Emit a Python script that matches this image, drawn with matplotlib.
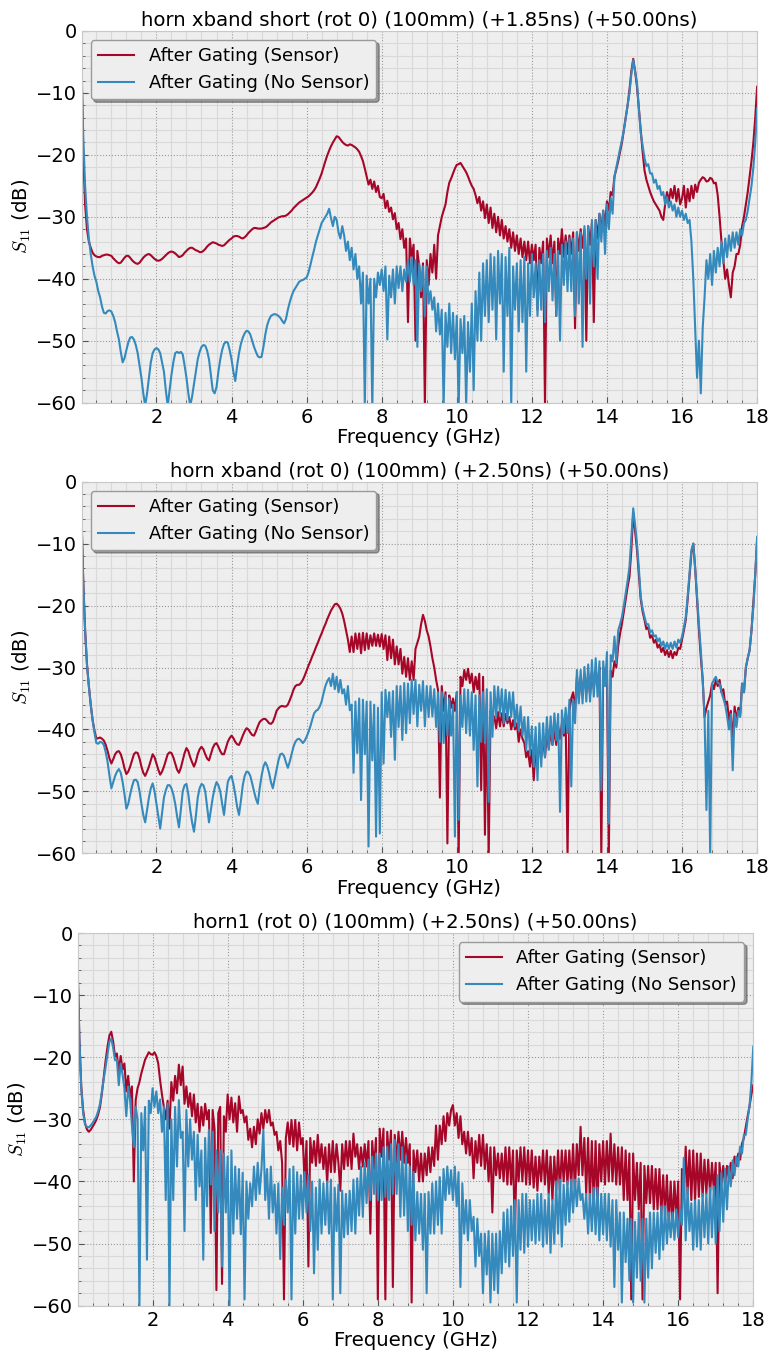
import numpy as np
import matplotlib
matplotlib.use("Agg")
import matplotlib.pyplot as plt
from matplotlib.ticker import MultipleLocator, AutoMinorLocator

plt.rcParams["mathtext.fontset"] = "cm"

# --- Data: dB values on a 0.05 GHz grid (first point at 0.01 GHz), one row per GHz ---
freq = np.concatenate([[0.01], np.arange(1, 361) / 20])

titles = [
    "horn xband short (rot 0) (100mm) (+1.85ns) (+50.00ns)",
    "horn xband (rot 0) (100mm) (+2.50ns) (+50.00ns)",
    "horn1 (rot 0) (100mm) (+2.50ns) (+50.00ns)",
]
labels = ["After Gating (Sensor)", "After Gating (No Sensor)"]

s1_sensor = [
    -7.5, -20.0, -28.0, -32.0, -34.0, -35.0, -35.8, -36.2, -36.4, -36.5, -36.5, -36.3, -36.2, -36.1, -36.1, -36.2, -36.3, -36.7, -37.0, -37.3,
    -37.5, -37.4, -37.0, -36.6, -36.3, -36.3, -36.6, -37.0, -37.3, -37.5, -37.6, -37.4, -37.0, -36.6, -36.3, -36.1, -36.0, -36.2, -36.5, -36.8,
    -37.0, -37.1, -37.0, -36.8, -36.5, -36.2, -35.9, -35.7, -35.6, -35.7, -35.9, -36.2, -36.5, -36.4, -36.2, -35.8, -35.5, -35.2, -35.0, -35.0,
    -35.2, -35.4, -35.5, -35.7, -35.7, -35.5, -35.2, -34.8, -34.5, -34.3, -34.1, -34.2, -34.3, -34.5, -34.6, -34.7, -34.6, -34.3, -34.0, -33.7,
    -33.5, -33.2, -33.1, -33.1, -33.2, -33.4, -33.5, -33.3, -33.0, -32.6, -32.3, -32.0, -31.8, -31.8, -31.9, -31.9, -31.9, -31.8, -31.7, -31.5,
    -31.2, -30.9, -30.7, -30.5, -30.3, -30.1, -30.0, -29.9, -29.9, -29.8, -29.6, -29.3, -29.0, -28.6, -28.3, -28.0, -27.7, -27.5, -27.3, -27.1,
    -26.9, -26.7, -26.4, -26.1, -25.7, -25.2, -24.5, -23.8, -23.0, -22.0, -21.0, -20.1, -19.3, -18.6, -18.0, -17.5, -17.0, -17.1, -17.5, -17.9,
    -18.2, -18.4, -18.5, -18.3, -18.4, -18.6, -18.8, -19.1, -19.5, -20.2, -21.0, -22.2, -23.5, -24.8, -24.0, -25.5, -24.3, -26.0, -25.0, -26.8,
    -27.0, -26.3, -28.6, -27.4, -29.2, -28.5, -30.4, -29.4, -32.0, -31.0, -33.6, -32.0, -35.0, -33.5, -47.0, -33.5, -36.5, -34.5, -50.0, -35.5,
    -38.0, -43.0, -37.5, -60.5, -37.0, -41.0, -36.0, -39.0, -34.5, -40.0, -33.0, -31.5, -30.0, -29.0, -28.0, -26.0, -24.5, -23.8, -23.0, -22.2,
    -21.6, -21.5, -21.3, -21.8, -22.3, -22.8, -23.5, -24.3, -25.0, -25.5, -26.5, -27.8, -26.8, -29.0, -27.5, -30.2, -28.0, -31.0, -28.5, -31.8,
    -29.5, -32.5, -30.0, -33.0, -30.5, -33.5, -31.5, -34.0, -32.0, -35.0, -32.5, -35.5, -33.0, -36.0, -33.5, -36.5, -34.0, -37.0, -34.0, -37.5,
    -34.5, -37.0, -34.5, -45.0, -35.0, -37.5, -34.0, -60.5, -33.5, -36.5, -33.0, -37.5, -34.0, -46.0, -33.5, -36.0, -32.0, -36.5, -33.0, -36.0,
    -33.0, -36.0, -32.5, -48.0, -32.5, -35.5, -32.0, -35.0, -32.0, -50.0, -31.5, -34.5, -31.0, -47.0, -30.5, -33.5, -29.5, -32.5, -29.0, -31.5,
    -27.5, -29.0, -26.0, -26.5, -23.5, -22.3, -21.0, -19.5, -18.0, -16.0, -14.0, -12.0, -9.5, -6.5, -4.5, -6.5, -9.0, -12.5, -16.0, -19.5,
    -22.5, -24.0, -25.0, -26.0, -26.8, -27.5, -28.0, -28.5, -29.0, -30.0, -30.5, -28.0, -26.0, -27.5, -25.5, -27.0, -25.0, -27.5, -25.5, -28.0,
    -27.0, -25.0, -28.5, -25.5, -27.5, -25.0, -27.0, -24.8, -26.0, -24.5, -24.0, -23.6, -23.8, -24.3, -24.2, -23.7, -23.9, -24.6, -24.5, -26.5,
    -30.0, -34.0, -37.0, -40.0, -38.5, -41.0, -43.0, -39.0, -38.0, -36.0, -36.0, -34.5, -31.5, -30.0, -28.0, -26.0, -23.5, -21.0, -18.0, -14.0,
    -9.0,
]
s1_nosensor = [
    -6.6, -17.0, -25.0, -30.0, -33.5, -36.0, -38.0, -39.5, -40.5, -42.0, -43.0, -44.5, -45.5, -45.6, -45.2, -45.1, -45.3, -46.0, -47.0, -48.5,
    -49.8, -51.8, -53.5, -52.8, -51.5, -50.3, -49.5, -49.4, -49.8, -50.7, -52.0, -54.0, -56.0, -58.5, -60.5, -58.5, -56.0, -53.5, -52.0, -51.4,
    -51.2, -51.4, -52.0, -53.5, -55.0, -58.0, -60.5, -58.0, -55.5, -53.5, -52.0, -51.8, -52.0, -51.8, -52.2, -54.0, -56.0, -58.5, -60.5, -59.0,
    -57.0, -55.0, -53.0, -51.8, -51.0, -50.7, -50.8, -51.6, -53.0, -55.5, -58.0, -58.5, -57.5, -55.0, -53.0, -51.5, -50.5, -50.2, -50.3, -51.5,
    -53.0, -55.0, -56.5, -54.0, -52.0, -50.5, -49.5, -48.8, -48.4, -48.5, -49.0, -50.0, -51.0, -51.8, -52.5, -52.7, -52.6, -51.0, -49.0, -47.5,
    -46.6, -46.0, -45.8, -45.7, -45.8, -46.0, -46.3, -46.8, -47.2, -46.5, -45.0, -43.8, -42.8, -42.0, -41.5, -41.0, -40.5, -40.3, -40.2, -40.0,
    -39.8, -39.0, -37.8, -36.5, -35.3, -34.0, -33.0, -32.0, -31.0, -30.5, -30.0, -29.5, -28.7, -30.2, -31.5, -30.0, -30.5, -32.5, -33.5, -31.5,
    -33.0, -35.5, -34.0, -37.0, -35.0, -38.5, -36.0, -40.0, -38.0, -44.0, -39.0, -60.5, -39.5, -44.0, -40.0, -61.0, -40.0, -43.0, -39.0, -41.0,
    -38.5, -42.0, -38.0, -49.8, -39.5, -43.0, -38.5, -44.0, -38.0, -41.5, -38.0, -42.0, -38.5, -40.5, -37.0, -40.5, -36.5, -41.0, -37.0, -51.0,
    -37.5, -42.0, -38.0, -46.0, -38.0, -44.0, -42.0, -45.0, -43.0, -48.5, -44.0, -49.0, -45.0, -60.5, -45.5, -51.0, -44.0, -52.0, -45.5, -53.0,
    -46.0, -61.0, -46.5, -52.0, -46.0, -60.5, -47.0, -55.0, -44.0, -58.0, -42.0, -50.0, -39.0, -50.0, -37.5, -46.0, -37.0, -47.0, -36.0, -45.0,
    -36.5, -49.8, -35.5, -44.0, -36.0, -55.0, -36.5, -46.0, -35.0, -60.5, -38.0, -45.0, -37.5, -48.5, -37.0, -47.0, -36.5, -55.0, -37.5, -46.0,
    -36.0, -43.0, -37.5, -46.0, -37.0, -45.0, -36.0, -47.0, -35.5, -42.0, -35.0, -43.5, -36.0, -46.0, -35.5, -50.0, -34.5, -41.0, -34.0, -42.0,
    -33.5, -42.0, -33.5, -46.0, -32.5, -44.0, -32.5, -51.0, -31.5, -40.0, -31.5, -44.0, -30.5, -38.0, -30.5, -40.0, -29.5, -34.0, -29.0, -36.0,
    -28.0, -32.0, -27.0, -29.5, -23.5, -22.0, -20.5, -19.0, -17.6, -16.0, -14.0, -12.0, -10.0, -7.0, -4.7, -6.5, -8.4, -12.5, -16.5, -18.5,
    -20.5, -21.8, -21.5, -23.0, -23.0, -24.5, -24.0, -25.5, -25.0, -26.5, -26.0, -28.0, -26.8, -28.5, -27.5, -29.0, -28.0, -30.0, -28.5, -30.0,
    -29.0, -30.5, -29.5, -31.0, -30.5, -34.0, -40.0, -48.0, -56.0, -50.0, -58.5, -48.0, -43.0, -37.0, -40.0, -36.0, -41.0, -35.5, -39.0, -35.0,
    -38.0, -34.0, -37.5, -33.5, -36.5, -33.0, -35.5, -32.5, -35.0, -32.5, -34.5, -32.0, -33.0, -31.0, -30.5, -29.0, -27.0, -25.0, -22.0, -18.0,
    -12.5,
]

s2_sensor = [
    -7.0, -16.0, -24.0, -29.5, -33.0, -36.0, -38.5, -40.2, -41.5, -41.4, -41.3, -41.5, -41.8, -42.5, -43.5, -44.7, -45.5, -44.8, -44.0, -43.6,
    -43.5, -44.0, -45.0, -46.3, -47.2, -46.8, -46.0, -45.0, -44.0, -43.7, -43.8, -44.7, -46.0, -47.0, -47.5, -46.8, -46.0, -45.0, -44.0, -44.5,
    -45.5, -46.5, -47.3, -46.8, -46.0, -45.0, -44.0, -43.7, -43.8, -44.5, -45.5, -46.5, -47.0, -46.2, -45.0, -43.8, -43.0, -43.5, -44.5, -45.3,
    -46.0, -45.2, -44.0, -43.2, -42.8, -43.2, -44.0, -44.7, -45.0, -44.0, -43.0, -42.4, -42.2, -42.8, -43.5, -44.0, -44.0, -43.0, -42.0, -41.4,
    -41.0, -41.4, -42.0, -42.4, -42.5, -41.8, -41.0, -40.3, -39.8, -40.0, -40.5, -40.9, -41.0, -40.3, -39.5, -38.8, -38.5, -38.3, -38.3, -38.6,
    -39.0, -39.1, -38.8, -38.0, -37.0, -36.6, -36.3, -36.2, -36.3, -36.3, -36.0, -35.3, -34.5, -33.6, -33.0, -32.8, -32.8, -32.5, -32.0, -31.3,
    -30.5, -29.7, -29.0, -28.2, -27.5, -26.7, -26.0, -25.2, -24.5, -23.7, -23.0, -22.2, -21.5, -20.8, -20.3, -19.8, -19.7, -20.0, -20.5, -21.3,
    -22.5, -24.0, -25.5, -27.5, -25.0, -27.5, -24.5, -27.0, -24.5, -27.7, -24.4, -27.2, -24.5, -27.0, -24.8, -26.5, -24.5, -26.5, -24.7, -26.6,
    -24.6, -27.0, -24.8, -28.8, -25.0, -28.5, -25.5, -29.5, -26.6, -29.5, -27.0, -31.0, -28.3, -31.5, -28.5, -32.0, -29.0, -32.0, -27.0, -26.0,
    -25.0, -23.0, -21.5, -22.5, -24.0, -25.0, -26.6, -28.5, -30.0, -32.0, -33.6, -51.0, -33.0, -37.0, -34.0, -58.4, -34.5, -36.5, -35.0, -37.0,
    -34.0, -60.5, -31.5, -33.0, -30.4, -32.0, -30.2, -32.5, -31.0, -34.0, -31.5, -33.5, -31.0, -49.8, -31.5, -57.0, -36.0, -60.5, -37.0, -39.0,
    -37.9, -39.8, -37.2, -39.5, -37.4, -39.5, -37.5, -39.0, -38.0, -40.0, -38.5, -40.0, -39.0, -42.0, -40.0, -41.5, -42.2, -44.5, -43.5, -46.0,
    -43.3, -48.2, -43.3, -46.0, -42.0, -44.5, -41.5, -44.5, -40.6, -43.0, -40.3, -42.5, -40.1, -42.5, -39.5, -41.5, -39.0, -41.0, -38.5, -60.5,
    -37.0, -35.0, -34.0, -37.0, -31.5, -35.0, -31.5, -34.5, -31.0, -34.0, -31.0, -34.5, -30.5, -33.5, -30.5, -33.0, -30.0, -60.5, -30.0, -32.0,
    -31.0, -60.5, -30.5, -31.5, -29.0, -30.0, -26.5, -24.5, -22.9, -21.0, -19.0, -17.0, -15.3, -11.0, -5.0, -8.0, -11.0, -15.0, -19.0, -21.0,
    -22.3, -23.8, -23.5, -25.2, -24.8, -26.0, -25.5, -26.8, -26.3, -27.5, -26.8, -28.0, -27.2, -28.3, -27.3, -28.5, -27.5, -28.0, -26.8, -27.0,
    -25.5, -24.0, -22.3, -19.0, -15.3, -11.5, -10.0, -14.0, -19.0, -24.0, -28.3, -32.0, -38.0, -36.5, -35.5, -34.5, -32.6, -33.5, -32.0, -33.0,
    -32.0, -34.0, -33.5, -36.0, -35.5, -38.5, -37.0, -42.2, -36.3, -38.5, -36.5, -37.5, -32.6, -34.0, -30.0, -28.5, -27.2, -24.0, -19.6, -15.0,
    -9.4,
]
s2_nosensor = [
    -7.0, -16.0, -24.0, -29.5, -33.0, -36.0, -38.5, -40.5, -42.2, -42.3, -42.0, -42.1, -42.5, -43.7, -45.3, -47.5, -49.5, -48.5, -47.5, -46.8,
    -46.4, -47.0, -48.5, -50.5, -52.8, -52.0, -50.5, -49.2, -48.2, -48.1, -48.5, -50.0, -52.0, -53.8, -55.0, -53.0, -51.0, -49.5, -48.7, -50.0,
    -52.0, -54.0, -56.0, -53.5, -51.0, -49.8, -49.0, -49.0, -49.5, -50.5, -52.0, -54.0, -55.8, -53.0, -50.0, -49.0, -48.8, -50.5, -53.0, -55.0,
    -56.5, -54.0, -51.0, -49.5, -48.8, -49.0, -50.0, -52.5, -55.0, -53.0, -51.0, -49.5, -48.5, -49.0, -50.0, -52.0, -53.8, -51.0, -48.5, -47.8,
    -47.5, -48.8, -50.5, -52.5, -53.8, -51.5, -49.0, -47.5, -46.8, -46.9, -47.5, -48.7, -50.0, -51.2, -52.0, -49.5, -47.5, -46.0, -45.3, -45.9,
    -47.0, -48.5, -49.5, -48.0, -46.5, -45.0, -44.0, -43.9, -44.3, -45.3, -46.2, -45.2, -44.0, -42.8, -42.0, -41.6, -41.5, -41.8, -42.2, -41.8,
    -41.2, -40.4, -39.5, -38.4, -37.4, -37.0, -36.8, -36.3, -35.5, -34.2, -33.0, -32.2, -31.7, -33.0, -31.0, -33.5, -31.5, -34.0, -32.0, -34.2,
    -33.5, -36.0, -33.0, -36.9, -36.0, -47.0, -35.5, -43.8, -35.0, -51.4, -35.2, -44.0, -35.5, -58.9, -35.5, -45.0, -36.0, -57.3, -36.5, -56.8,
    -34.0, -45.5, -33.6, -38.0, -34.0, -41.2, -33.8, -44.9, -33.0, -39.6, -33.0, -41.7, -32.5, -40.6, -32.6, -39.0, -32.0, -37.5, -32.0, -39.5,
    -32.8, -37.0, -32.2, -39.5, -33.0, -38.0, -33.0, -37.9, -33.5, -39.6, -34.0, -42.0, -34.0, -42.2, -34.5, -41.0, -35.0, -41.0, -36.0, -57.3,
    -34.0, -54.6, -34.5, -39.6, -33.5, -40.6, -33.6, -41.0, -34.0, -43.3, -34.5, -49.2, -34.5, -42.0, -34.0, -42.2, -33.5, -51.7, -34.0, -41.2,
    -33.0, -37.9, -33.1, -37.5, -33.5, -39.0, -33.6, -38.5, -34.0, -38.0, -34.0, -39.5, -36.0, -40.1, -36.3, -41.0, -38.0, -43.3, -38.0, -44.0,
    -39.5, -46.0, -39.6, -48.2, -39.0, -46.0, -39.0, -44.5, -38.0, -43.3, -37.9, -42.5, -37.4, -41.7, -37.5, -53.3, -36.9, -40.6, -36.5, -40.6,
    -35.2, -49.2, -35.2, -39.0, -30.4, -35.8, -30.4, -35.8, -29.9, -35.5, -29.5, -35.5, -28.8, -34.7, -28.5, -34.7, -29.0, -49.8, -29.0, -33.0,
    -27.5, -55.2, -28.0, -29.0, -25.0, -29.3, -24.0, -23.0, -21.8, -20.0, -18.0, -16.0, -13.7, -9.0, -4.3, -7.0, -10.0, -14.0, -18.6, -20.5,
    -21.8, -23.0, -23.0, -24.3, -24.0, -25.0, -24.8, -25.8, -25.3, -26.5, -25.8, -27.0, -26.0, -27.0, -26.0, -27.0, -25.8, -26.8, -25.5, -26.0,
    -25.0, -23.5, -21.8, -18.5, -14.8, -11.0, -10.0, -14.0, -18.6, -23.0, -27.2, -32.0, -38.0, -53.0, -37.0, -60.5, -32.6, -32.0, -31.5, -32.5,
    -32.6, -34.0, -35.0, -36.0, -37.9, -40.0, -37.5, -46.6, -37.4, -39.6, -37.0, -38.0, -32.6, -34.0, -30.0, -28.5, -27.2, -24.0, -20.2, -15.0,
    -8.9,
]

s3_sensor = [
    -7.0, -17.0, -24.7, -28.5, -30.6, -31.6, -32.0, -31.7, -31.2, -30.7, -30.1, -29.2, -28.0, -25.8, -23.1, -20.5, -18.3, -16.5, -15.9, -17.5,
    -19.9, -19.4, -22.5, -19.8, -22.0, -21.0, -25.5, -23.0, -26.5, -24.7, -40.0, -26.9, -25.0, -24.0, -22.6, -21.5, -20.4, -19.8, -19.2, -19.5,
    -19.6, -19.2, -19.8, -21.0, -23.7, -26.0, -28.0, -30.0, -27.0, -31.5, -24.0, -27.0, -23.0, -25.8, -21.2, -24.5, -21.5, -27.5, -24.7, -28.0,
    -25.8, -29.5, -26.0, -30.5, -27.5, -32.0, -28.0, -31.0, -27.5, -30.0, -28.5, -48.3, -28.5, -31.5, -57.5, -29.0, -28.0, -56.5, -29.5, -32.0,
    -26.0, -30.0, -26.5, -30.5, -27.4, -32.0, -26.3, -29.0, -28.5, -30.5, -29.5, -33.3, -31.5, -34.5, -31.2, -34.0, -30.0, -32.3, -29.0, -31.5,
    -28.5, -30.5, -28.5, -31.0, -30.5, -32.5, -32.0, -35.0, -33.5, -37.0, -59.0, -33.0, -30.5, -34.0, -30.1, -34.4, -30.1, -35.0, -30.5, -34.0,
    -33.0, -40.3, -33.5, -53.7, -33.0, -37.0, -33.5, -37.5, -32.5, -37.0, -34.0, -38.0, -34.5, -40.3, -34.0, -38.5, -33.5, -38.5, -34.0, -37.0,
    -41.5, -34.0, -38.0, -33.5, -37.5, -33.5, -38.0, -32.3, -36.0, -34.0, -38.0, -34.5, -37.6, -34.0, -37.6, -33.5, -48.4, -33.5, -38.0, -33.0,
    -59.0, -31.5, -36.0, -31.5, -59.0, -32.0, -36.5, -31.8, -57.0, -32.5, -37.0, -32.0, -36.5, -32.0, -37.0, -33.0, -37.0, -34.0, -59.5, -35.0,
    -38.5, -35.0, -40.0, -35.5, -40.0, -35.5, -39.0, -34.5, -38.5, -34.5, -37.5, -31.0, -36.5, -31.0, -34.0, -29.5, -33.5, -29.0, -31.0, -28.5,
    -27.7, -31.0, -29.0, -33.0, -29.5, -34.0, -32.0, -35.5, -32.0, -35.8, -33.0, -39.5, -33.5, -37.0, -32.5, -37.5, -32.5, -38.0, -34.0, -40.0,
    -34.5, -45.0, -34.5, -39.0, -35.5, -39.5, -35.5, -40.0, -34.5, -40.5, -34.5, -40.5, -35.0, -48.4, -35.0, -40.0, -34.5, -40.0, -34.5, -40.5,
    -35.0, -40.5, -35.0, -41.0, -36.0, -41.5, -36.0, -40.0, -35.0, -40.5, -35.0, -42.0, -36.0, -43.0, -36.0, -41.5, -35.0, -41.5, -35.0, -40.0,
    -35.0, -40.5, -35.0, -41.0, -34.0, -41.5, -34.0, -39.0, -31.2, -39.0, -33.0, -42.0, -33.0, -43.0, -33.5, -44.0, -33.5, -44.0, -34.0, -40.0,
    -33.5, -40.5, -33.5, -40.0, -32.3, -40.0, -34.0, -40.5, -34.5, -40.5, -34.5, -43.0, -35.0, -43.0, -35.5, -59.0, -35.5, -43.0, -37.0, -44.5,
    -37.0, -59.0, -37.5, -43.5, -37.5, -43.5, -37.5, -44.5, -38.0, -44.5, -38.0, -45.5, -39.0, -45.5, -39.0, -47.0, -40.0, -47.0, -40.0, -46.0,
    -40.0, -59.0, -38.0, -42.0, -34.4, -42.0, -35.0, -43.0, -35.0, -43.0, -35.5, -42.5, -35.5, -42.5, -36.5, -42.0, -36.5, -42.0, -37.0, -41.5,
    -37.0, -58.0, -37.0, -40.5, -37.5, -40.5, -37.5, -39.5, -37.0, -39.5, -36.0, -37.5, -35.5, -36.5, -33.9, -33.0, -31.2, -29.5, -27.9, -26.0,
    -24.5,
]
s3_nosensor = [
    -7.0, -17.0, -25.0, -29.0, -30.8, -31.2, -31.3, -31.0, -30.6, -30.1, -29.6, -28.7, -27.5, -25.5, -23.5, -21.5, -19.5, -17.5, -17.0, -18.5,
    -20.5, -20.4, -24.5, -21.0, -22.8, -25.0, -29.5, -24.7, -26.9, -31.0, -34.5, -28.0, -30.0, -60.0, -29.0, -35.0, -28.0, -52.6, -27.0, -29.0,
    -25.0, -28.0, -25.5, -29.0, -26.8, -32.0, -28.0, -43.0, -27.5, -60.0, -30.0, -43.0, -28.0, -37.6, -26.9, -33.0, -32.0, -48.0, -28.5, -37.6,
    -30.0, -36.5, -32.0, -43.0, -32.5, -40.8, -35.0, -52.6, -33.0, -44.0, -31.7, -40.5, -32.0, -48.0, -35.0, -45.0, -35.0, -53.7, -35.5, -45.0,
    -36.0, -60.0, -35.0, -48.4, -37.6, -46.0, -38.0, -48.5, -38.6, -59.0, -40.0, -46.0, -40.3, -44.0, -37.6, -43.0, -37.0, -42.0, -38.0, -31.7,
    -43.0, -38.0, -46.0, -37.6, -45.0, -40.5, -48.4, -40.3, -52.5, -41.0, -47.0, -39.7, -45.0, -38.0, -59.0, -37.6, -48.4, -38.5, -46.0, -39.0,
    -46.0, -38.5, -45.0, -39.0, -48.0, -40.0, -54.8, -41.0, -51.0, -39.7, -48.4, -40.3, -47.0, -40.0, -48.4, -39.7, -59.0, -41.0, -48.0, -40.5,
    -58.0, -41.5, -49.0, -42.0, -48.5, -41.5, -48.0, -39.7, -48.4, -39.5, -45.5, -37.6, -45.7, -37.0, -43.5, -36.5, -43.0, -36.0, -42.0, -35.5,
    -43.0, -35.5, -43.0, -34.5, -42.5, -34.4, -43.0, -34.0, -42.0, -33.3, -42.0, -34.0, -45.7, -34.5, -45.5, -36.0, -48.0, -37.6, -47.0, -38.5,
    -49.5, -41.7, -48.4, -42.0, -51.0, -42.0, -58.0, -41.7, -48.4, -40.3, -48.4, -40.0, -47.0, -39.3, -48.4, -38.0, -43.0, -37.6, -42.0, -38.2,
    -43.0, -37.6, -44.0, -38.5, -57.0, -40.3, -48.4, -43.0, -49.5, -43.0, -48.0, -45.7, -53.7, -46.0, -52.0, -48.4, -58.0, -48.4, -55.0, -48.0,
    -59.5, -48.4, -57.5, -48.4, -58.0, -48.0, -54.8, -45.0, -53.0, -44.5, -53.7, -44.0, -52.0, -43.0, -59.5, -43.0, -51.0, -42.0, -51.5, -42.0,
    -50.5, -43.0, -49.5, -43.0, -50.0, -42.0, -49.5, -42.0, -50.5, -43.0, -50.0, -42.0, -51.5, -43.0, -50.0, -40.0, -48.4, -39.7, -50.5, -40.5,
    -47.0, -40.0, -46.5, -39.7, -45.0, -39.7, -44.0, -39.5, -43.0, -42.0, -46.0, -42.0, -48.4, -42.0, -48.0, -41.0, -48.5, -41.0, -49.5, -42.0,
    -48.5, -42.0, -49.5, -42.0, -50.5, -43.0, -57.0, -43.0, -51.0, -45.0, -59.5, -45.0, -53.0, -46.0, -56.0, -46.0, -59.5, -46.5, -55.5, -45.0,
    -56.0, -46.0, -59.5, -46.0, -55.5, -45.0, -54.0, -45.0, -51.5, -45.0, -52.5, -44.0, -51.0, -44.0, -50.0, -45.0, -49.0, -45.0, -49.4, -44.5,
    -49.0, -44.5, -47.0, -36.2, -49.5, -41.0, -48.0, -43.5, -51.0, -43.0, -50.5, -43.0, -51.0, -42.0, -49.0, -42.0, -50.0, -41.0, -49.0, -40.8,
    -50.0, -39.0, -48.0, -38.6, -46.5, -38.0, -44.5, -37.6, -40.8, -36.6, -39.0, -36.0, -37.6, -34.4, -35.5, -32.5, -32.5, -30.0, -27.9, -24.0,
    -18.3,
]

sensor_series = [s1_sensor, s2_sensor, s3_sensor]
nosensor_series = [s1_nosensor, s2_nosensor, s3_nosensor]
legend_locs = ["upper left", "upper left", "upper right"]

# axes boxes in figure fractions [left, bottom, width, height]
boxes = [
    [0.106, 0.7024, 0.876, 0.2747],
    [0.106, 0.3693, 0.876, 0.2747],
    [0.101, 0.0350, 0.876, 0.2754],
]

red = "#A60628"
blue = "#348ABD"

fig = plt.figure(figsize=(7.71, 13.53), dpi=100)

for i in range(3):
    ax = fig.add_axes(boxes[i])
    ax.set_facecolor("#eeeeee")
    ax.plot(freq, sensor_series[i], color=red, lw=1.5, label=labels[0])
    ax.plot(freq, nosensor_series[i], color=blue, lw=1.5, label=labels[1])

    ax.set_xlim(freq[0], 18)
    ax.set_ylim(-60, 0)
    ax.xaxis.set_major_locator(MultipleLocator(2))
    ax.xaxis.set_minor_locator(AutoMinorLocator(5))
    ax.yaxis.set_major_locator(MultipleLocator(10))
    ax.yaxis.set_minor_locator(AutoMinorLocator(5))

    ax.grid(which="major", color="#9a9a9a", linestyle=":", linewidth=0.8)
    ax.grid(which="minor", color="#d9d9d9", linestyle="-", linewidth=0.8)
    ax.set_axisbelow(True)
    for sp in ax.spines.values():
        sp.set_color("#c8c8c8")
    ax.tick_params(which="both", direction="in", colors="#555555",
                   labelcolor="black", labelsize=14)
    ax.tick_params(which="major", length=4)
    ax.tick_params(which="minor", length=2.5)

    ax.set_title(titles[i], fontsize=14.2, pad=4)
    ax.set_xlabel("Frequency (GHz)", fontsize=14.2, labelpad=1)
    ax.set_ylabel("$S_{11}$ (dB)", fontsize=14.2, labelpad=2)
    ax.legend(loc=legend_locs[i], fontsize=13, shadow=True, fancybox=True,
              framealpha=1, facecolor="#eeeeee", edgecolor="#9a9a9a")

fig.savefig("out.png", dpi=100)
